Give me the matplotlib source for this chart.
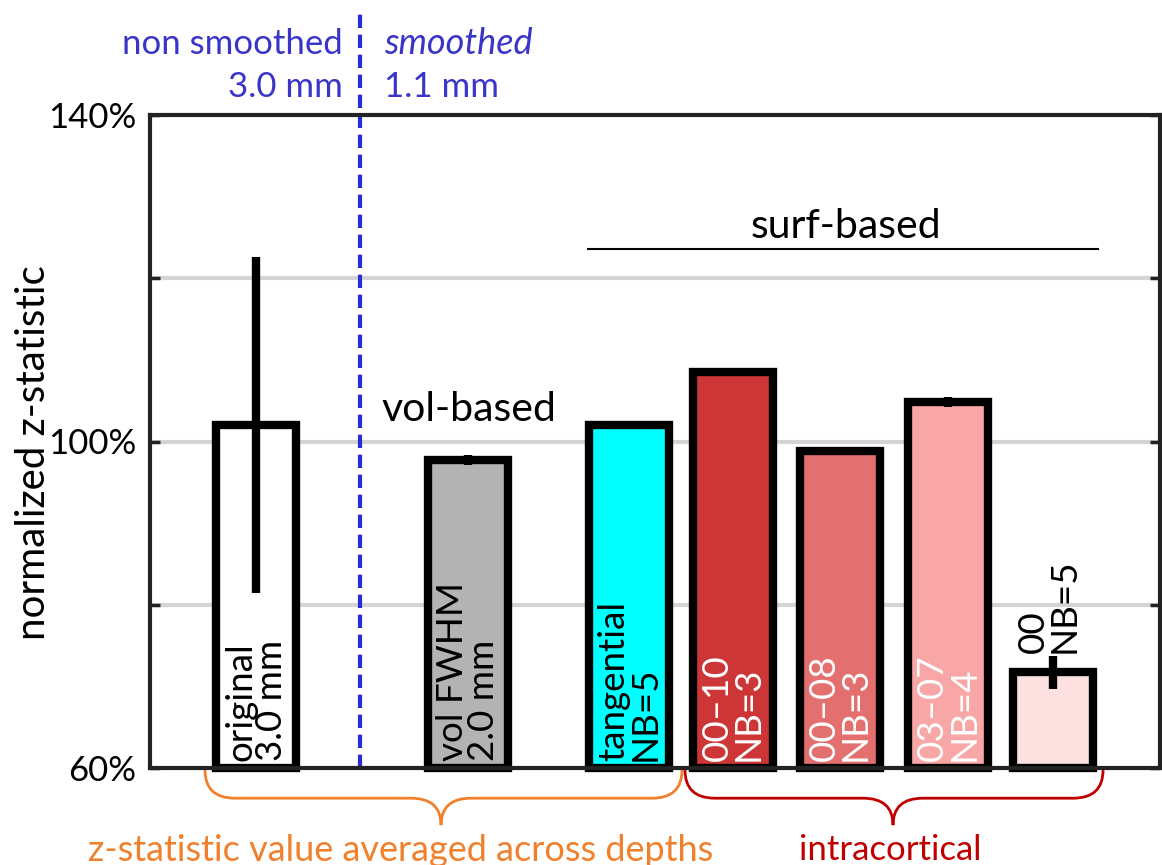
import numpy as np
import matplotlib
matplotlib.use("Agg")
import matplotlib.pyplot as plt
from matplotlib.path import Path
from matplotlib.patches import PathPatch

plt.rcParams['font.family'] = ['Lato', 'DejaVu Sans']

# bar data (normalized z-statistic, %)
labels = ['original\n3.0 mm', 'vol FWHM\n2.0 mm', 'tangential\nNB=5',
          '00\u201310\nNB=3', '00\u201308\nNB=3', '03\u201307\nNB=4', '00\nNB=5']
values = [102.0, 97.7, 102.0, 108.5, 98.8, 104.8, 71.7]
errors = [20.6, 0.6, 0.1, 0.1, 0.1, 0.6, 2.0]
colors = ['#ffffff', '#b3b3b3', '#00ffff', '#cc3636', '#e36f6f', '#f9a6a6', '#fde0e0']
text_colors = ['black', 'black', 'black', 'white', 'white', 'white', 'black']
positions = [0.99, 2.97, 4.48, 5.45, 6.45, 7.46, 8.44]
yticks = [60, 80, 100, 120, 140]
yticklabels = ['60%', '', '100%', '', '140%']

fig = plt.figure(figsize=(11.62, 8.65), dpi=100)
ax = fig.add_axes([150 / 1162, 1 - 768 / 865, 1010 / 1162, 653 / 865])

ax.set_xlim(0, 1010 / 107)
ax.set_ylim(60, 140)

# grid lines
for g in [80, 100, 120]:
    ax.axhline(g, color='#d4d4d4', lw=3, zorder=0)

bars = ax.bar(positions, np.array(values) - 60, bottom=60, width=0.75,
              color=colors, edgecolor='black', linewidth=6, zorder=2, clip_on=False)
ax.errorbar(positions, values, yerr=errors, fmt='none', ecolor='black',
            elinewidth=6, capsize=0, zorder=3)

# rotated labels inside / above bars
for i, (p, lab, tc) in enumerate(zip(positions, labels, text_colors)):
    if i == len(labels) - 1:
        y0 = values[i] + errors[i] + 0.4
        p = p - 0.04
    else:
        y0 = 60.9
    ax.text(p, y0, lab, rotation=90, ha='center', va='bottom', color=tc,
            fontsize=26.5, linespacing=0.92, multialignment='left', zorder=4)

# smoothing divider
ax.plot([1.96, 1.96], [60, 153], color='#2b2bd4', lw=3, ls=(0, (3.2, 1.6)),
        clip_on=False, zorder=5)
blue = '#3a35c8'
ax.text(1.80, 148.7, 'non smoothed', color=blue, fontsize=25, ha='right', va='center')
ax.text(1.80, 143.4, '3.0 mm', color=blue, fontsize=25, ha='right', va='center')
ax.text(2.19, 148.7, 'smoothed', color=blue, fontsize=26, ha='left', va='center',
        style='italic')
ax.text(2.19, 143.4, '1.1 mm', color=blue, fontsize=25, ha='left', va='center')

# group annotations
ax.text(2.98, 103.9, 'vol-based', fontsize=29.5, ha='center', va='center')
ax.text(6.50, 126.3, 'surf-based', fontsize=29.5, ha='center', va='center')
ax.plot([4.09, 8.86], [123.6, 123.6], color='black', lw=1.5)


def brace(x0, x1, xm, color, r=0.28, yt=59.75, ym=56.3, ytip=53.0):
    verts = [(x0, yt), (x0, ym), (x0 + r, ym), (xm - r, ym), (xm, ym), (xm, ytip),
             (xm, ym), (xm + r, ym), (x1 - r, ym), (x1, ym), (x1, yt)]
    codes = [Path.MOVETO, Path.CURVE3, Path.CURVE3, Path.LINETO, Path.CURVE3,
             Path.CURVE3, Path.CURVE3, Path.CURVE3, Path.LINETO, Path.CURVE3, Path.CURVE3]
    ax.add_patch(PathPatch(Path(verts, codes), fc='none', ec=color, lw=2,
                           clip_on=False))


brace(0.514, 4.972, 2.72, '#f0802c')
brace(5.0, 8.907, 6.944, '#c00000')
ax.text(2.34, 49.9, 'z-statistic value averaged across depths', color='#f0802c',
        fontsize=26, ha='center', va='center')
ax.text(6.92, 49.9, 'intracortical', color='#c00000', fontsize=25,
        ha='center', va='center')

# axes styling
for s in ax.spines.values():
    s.set_linewidth(3)
    s.set_color('#222222')
    s.set_zorder(6)
ax.set_xticks([])
ax.set_yticks(yticks)
ax.set_yticklabels(yticklabels, fontsize=25)
ax.tick_params(axis='y', direction='in', length=7, width=2.5, right=True,
               pad=10, colors='#222222')
ax.tick_params(axis='y', labelcolor='black')
fig.text(34 / 1162, 1 - 453 / 865, 'normalized z-statistic', rotation=90,
         fontsize=29, ha='center', va='center')

fig.savefig('out.png', dpi=100)
